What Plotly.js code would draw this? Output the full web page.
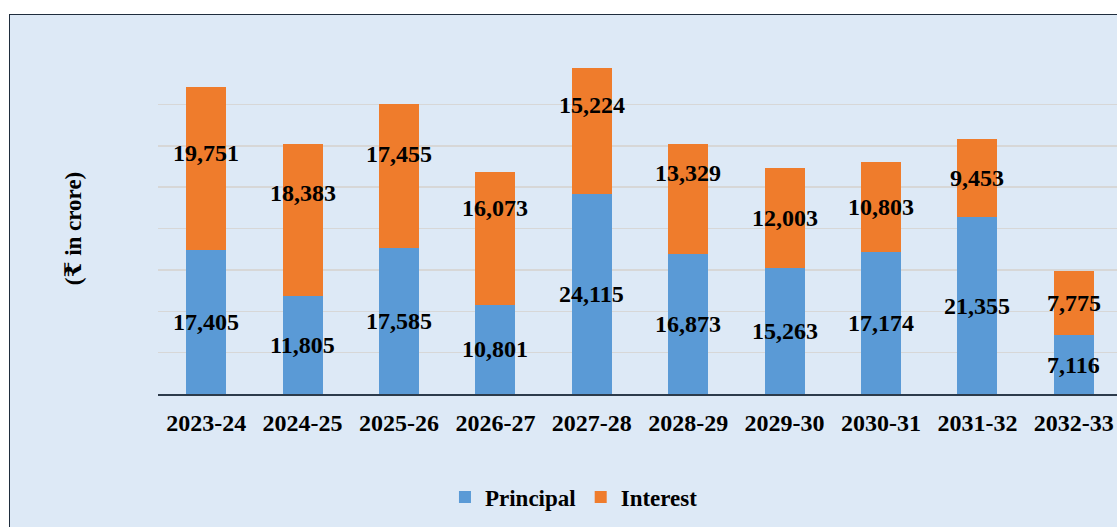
<!DOCTYPE html>
<html>
<head>
<meta charset="utf-8">
<script src="https://cdn.plot.ly/plotly-3.0.1.min.js"></script>
<style>
  html, body { margin: 0; padding: 0; background: #ffffff; overflow: hidden; width: 1117px; height: 527px; }
  #chart { position: absolute; left: 9px; top: 14px; width: 1140px; height: 530px; border: 1px solid #1f2d3d; }
</style>
</head>
<body>
<div id="chart"></div>
<script>
const years = ["2023-24","2024-25","2025-26","2026-27","2027-28","2028-29","2029-30","2030-31","2031-32","2032-33"];
const principal = [17405, 11805, 17585, 10801, 24115, 16873, 15263, 17174, 21355, 7116];
const interest  = [19751, 18383, 17455, 16073, 15224, 13329, 12003, 10803, 9453, 7775];
// label vertical nudges in px (as placed in the original)
const interestLabelShift = [15, 27, 22, 30, 26, 26, 0, 0, 0, 0];

const fmt = v => v.toLocaleString('en-US');
const serif = "'Liberation Serif', 'Times New Roman', 'DejaVu Serif', serif";

const traces = [
  { type: 'bar', name: 'Principal', x: years, y: principal,
    marker: { color: '#5a9ad6' }, hoverinfo: 'x+y' },
  { type: 'bar', name: 'Interest', x: years, y: interest,
    marker: { color: '#ef7c2c' }, hoverinfo: 'x+y' }
];

const labelFont = { family: serif, size: 24, color: '#000', weight: 'bold' };
const annotations = [];
years.forEach((yr, i) => {
  annotations.push({ x: yr, y: principal[i] / 2, text: fmt(principal[i]), showarrow: false,
    font: labelFont });
  annotations.push({ x: yr, y: principal[i] + interest[i] / 2, yshift: interestLabelShift[i],
    text: fmt(interest[i]), showarrow: false, font: labelFont });
});

const layout = {
  width: 1140, height: 530,
  margin: { l: 148, r: 28, t: 48, b: 151 },
  paper_bgcolor: '#dde9f6',
  plot_bgcolor: 'rgba(0,0,0,0)',
  barmode: 'stack',
  bargap: 0.585,
  font: { family: serif, color: '#000' },
  xaxis: {
    type: 'category',
    showline: true, linecolor: '#2c3b4b', linewidth: 2,
    ticks: '', showgrid: false,
    tickfont: { family: serif, size: 24, color: '#000', weight: 'bold' },
    ticklabelstandoff: 6
  },
  yaxis: {
    range: [0, 40000], dtick: 5000,
    showgrid: true, gridcolor: '#d7d7d7', gridwidth: 1.5,
    zeroline: false, showticklabels: false, showline: false,
    title: { text: '(₹ in crore)', standoff: 68,
      font: { family: serif, size: 23, color: '#000', weight: 'bold' } },
    automargin: false
  },
  showlegend: true,
  legend: {
    orientation: 'h', x: 0.4315, xanchor: 'center', y: -0.311, yanchor: 'middle',
    bgcolor: 'rgba(0,0,0,0)',
    font: { family: serif, size: 23, color: '#000', weight: 'bold' },
    traceorder: 'normal', itemwidth: 30
  },
  annotations: annotations
};

Plotly.newPlot('chart', traces, layout, { displayModeBar: false, staticPlot: true });
</script>
</body>
</html>
